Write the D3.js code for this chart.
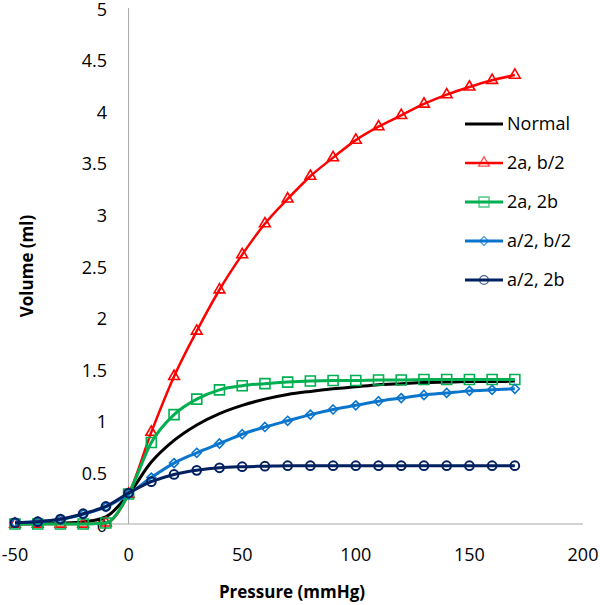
<!DOCTYPE html>
<html><head><meta charset="utf-8">
<script src="https://cdn.jsdelivr.net/npm/d3@7"></script>
<style>body{margin:0;background:#fff}svg{display:block}text{font-family:"Open Sans",sans-serif;fill:#000}</style>
</head><body><svg id="c" width="600" height="605"></svg>
<script>
const pressure = [-50,-40,-30,-20,-10,0,10,20,30,40,50,60,70,80,90,100,110,120,130,140,150,160,170];
const normal   = [0,0.003,0.008,0.02,0.07,0.29,0.60,0.81,0.96,1.07,1.15,1.21,1.255,1.285,1.31,1.33,1.35,1.36,1.37,1.375,1.38,1.38,1.385];
const a2b_2    = [0,0,0,0,0.01,0.29,0.89,1.43,1.87,2.27,2.61,2.91,3.15,3.37,3.55,3.72,3.85,3.96,4.07,4.16,4.235,4.30,4.35];
const a2b2     = [0,0,0,0,0.01,0.29,0.79,1.06,1.21,1.30,1.34,1.36,1.375,1.385,1.39,1.39,1.395,1.395,1.4,1.4,1.4,1.4,1.4];
const a_2b_2   = [0.013,0.022,0.045,0.095,0.165,0.29,0.45,0.59,0.69,0.78,0.87,0.94,1.00,1.06,1.11,1.15,1.19,1.22,1.25,1.27,1.29,1.30,1.31];
const a_2b2    = [0.013,0.022,0.048,0.10,0.17,0.30,0.41,0.48,0.52,0.545,0.555,0.56,0.565,0.565,0.565,0.565,0.565,0.565,0.565,0.565,0.565,0.565,0.565];
const xTicks = [-50,0,50,100,150,200];
const yTicks = [0,0.5,1,1.5,2,2.5,3,3.5,4,4.5,5];
const seriesNames = ["Normal","2a, b/2","2a, 2b","a/2, b/2","a/2, 2b"];

const series = [
  {name:seriesNames[0], vals:normal, color:"#000000", marker:null, w:3},
  {name:seriesNames[1], vals:a2b_2, color:"#FF0000", marker:"triangle", w:2.5},
  {name:seriesNames[2], vals:a2b2, color:"#00B050", marker:"square", w:3},
  {name:seriesNames[3], vals:a_2b_2, color:"#0A75CC", marker:"diamond", w:3},
  {name:seriesNames[4], vals:a_2b2, color:"#002060", marker:"circle", w:3}
];

const svg = d3.select("#c");
const x = d3.scaleLinear().domain([-50,200]).range([15,583]);
const y = d3.scaleLinear().domain([0,5]).range([524,8]);
const axisColor = "#A6A6A6";

svg.append("line").attr("x1",x(-50)).attr("x2",x(200)).attr("y1",y(0)).attr("y2",y(0)).attr("stroke",axisColor).attr("stroke-width",1);
svg.append("line").attr("x1",x(0)).attr("x2",x(0)).attr("y1",y(0)).attr("y2",y(5)).attr("stroke",axisColor).attr("stroke-width",1);

svg.append("g").selectAll("text").data(xTicks).join("text")
  .attr("x",d=>x(d)).attr("y",561).attr("text-anchor","middle").attr("font-size",18).text(d=>d);
svg.append("g").selectAll("text").data(yTicks).join("text")
  .attr("x",107).attr("y",d=>y(d)).attr("dy","0.42em").attr("text-anchor","end").attr("font-size",18).text(d=>d);

svg.append("text").attr("x",292).attr("y",598).attr("text-anchor","middle").attr("font-size",17).attr("font-weight","bold").text("Pressure (mmHg)");
svg.append("text").attr("transform","translate(33,266) rotate(-90)").attr("text-anchor","middle").attr("font-size",17).attr("font-weight","bold").text("Volume (ml)");

function markerPath(type){
  if(type==="triangle") return d3.symbol().type(d3.symbolTriangle).size(50)();
  if(type==="square") return "M-5,-5H5V5H-5Z";
  if(type==="diamond") return "M0,-4.5L4.5,0L0,4.5L-4.5,0Z";
  if(type==="circle") return d3.symbol().type(d3.symbolCircle).size(60)();
  return null;
}

const line = d3.line().curve(d3.curveMonotoneX).x((d,i)=>x(pressure[i])).y(d=>y(d));
const g = svg.append("g");
series.forEach(s=>{
  g.append("path").attr("d",line(s.vals)).attr("fill","none").attr("stroke",s.color).attr("stroke-width",s.w).attr("stroke-linejoin","round");
  if(s.marker){
    g.append("g").selectAll("path").data(s.vals).join("path")
      .attr("d",markerPath(s.marker))
      .attr("transform",(d,i)=>`translate(${x(pressure[i])},${y(d)})`)
      .attr("fill","none").attr("stroke",s.color).attr("stroke-width",s.marker==="circle"?2:1.6);
  }
});

const lg = svg.append("g");
series.forEach((s,i)=>{
  const ly = 124 + i*39;
  lg.append("line").attr("x1",465).attr("x2",503).attr("y1",ly).attr("y2",ly).attr("stroke",s.color).attr("stroke-width",s.w);
  if(s.marker){
    lg.append("path").attr("d",markerPath(s.marker)).attr("transform",`translate(484,${ly})`)
      .attr("fill","none").attr("stroke",s.color).attr("stroke-opacity",0.7).attr("stroke-width",1.3);
  }
  lg.append("text").attr("x",507).attr("y",ly).attr("dy","0.36em").attr("font-size",18).text(s.name);
});
</script></body></html>
